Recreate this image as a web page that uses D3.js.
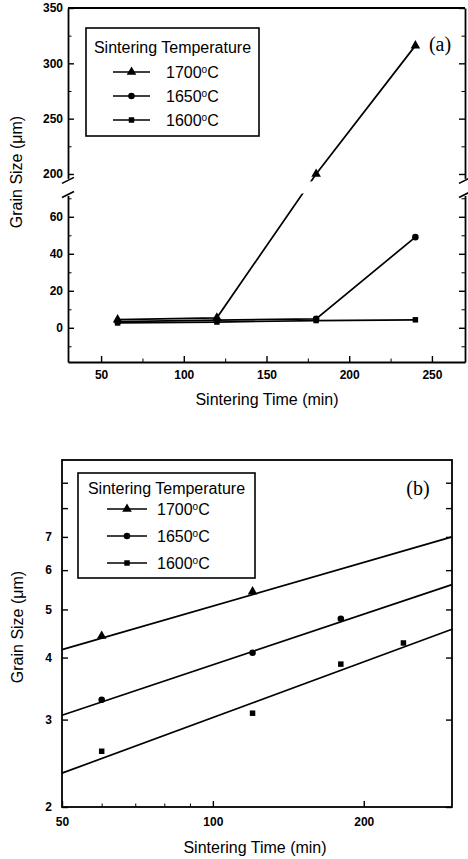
<!DOCTYPE html>
<html>
<head>
<meta charset="utf-8">
<script src="https://cdn.jsdelivr.net/npm/d3@7"></script>
<style>
  body { margin: 0; background: #fff; }
  svg { display: block; font-family: "Liberation Sans", Arial, sans-serif; }
  .tick text { font-weight: bold; font-size: 12px; fill: #000; }
  .domain, .tick line { stroke: #000; }
</style>
</head>
<body>
<svg id="chart" width="468" height="859"></svg>
<script>
// temperatures / legend
var temps = ["1700", "1650", "1600"]
var markers = ["triangle", "circle", "square"]

// panel (a): grain size vs time, linear with axis break
var timeA = [60, 120, 180, 240]
var size1700 = [4.4, 5.4, 200, 316]
var size1650 = [3.3, 4.1, 4.8, 49]
var size1600 = [2.6, 3.1, 3.9, 4.3]

var xTicksA = [50, 100, 150, 200, 250]
var xMinorA = [75, 125, 175, 225]
var yLowTicks = [0, 20, 40, 60]
var yLowMinor = [-10, 10, 30, 50, 70]
var yHighTicks = [200, 250, 300, 350]
var yHighMinor = [225, 275, 325]

// panel (b): log-log with fitted lines
var time1700b = [60, 120]
var size1700b = [4.42, 5.43]
var time1650b = [60, 120, 180]
var size1650b = [3.29, 4.09, 4.79]
var time1600b = [60, 120, 180, 240]
var size1600b = [2.59, 3.09, 3.88, 4.28]

var fitTime = [50, 300]
var fit1700 = [4.15, 7.0]
var fit1650 = [3.06, 5.61]
var fit1600 = [2.34, 4.56]

var xTicksB = [50, 100, 200]
var xMinorB = [60, 70, 80, 90]
var yTicksB = [2, 3, 4, 5, 6, 7]
var yMinorB = [8, 9]

var svg = d3.select("#chart")

function symbolFor(name) {
  if (name == "triangle") return d3.symbol().type(d3.symbolTriangle).size(40)
  if (name == "circle") return d3.symbol().type(d3.symbolCircle).size(34)
  return d3.symbol().type(d3.symbolSquare).size(30)
}

function drawLegend(g, x0, y0, w, h, rowsY, lineX, textX) {
  g.append("rect")
    .attr("x", x0).attr("y", y0).attr("width", w).attr("height", h)
    .attr("fill", "#fff").attr("stroke", "#000").attr("stroke-width", 1.6)
  g.append("text")
    .attr("x", x0 + w / 2).attr("y", y0 + (rowsY[0] - y0) / 2 - 3)
    .attr("text-anchor", "middle").attr("dominant-baseline", "central")
    .attr("font-size", 16)
    .text("Sintering Temperature")
  temps.forEach(function (t, i) {
    var y = rowsY[i]
    g.append("line")
      .attr("x1", lineX[0]).attr("x2", lineX[1]).attr("y1", y).attr("y2", y)
      .attr("stroke", "#000").attr("stroke-width", 1.4)
    g.append("path")
      .attr("d", symbolFor(markers[i])())
      .attr("transform", "translate(" + ((lineX[0] + lineX[1]) / 2) + "," + y + ")")
    var txt = g.append("text")
      .attr("x", textX).attr("y", y).attr("dominant-baseline", "central")
      .attr("font-size", 16)
    txt.append("tspan").text(t)
    txt.append("tspan").attr("font-size", 10).attr("dy", -3).text("o")
    txt.append("tspan").attr("dy", 3).text("C")
  })
}

// ---------- panel (a) ----------
var xA = d3.scaleLinear().domain([30, 270]).range([68, 465])
var yLow = d3.scaleLinear().domain([-18.5, 71.5]).range([362, 195.5])
var yHigh = d3.scaleLinear().domain([196, 350]).range([178.4, 8])
var yA = d3.scaleLinear().domain([-18.5, 71.5, 196, 350]).range([362, 195.5, 178.4, 8])

var gA = svg.append("g")

// frame top / bottom
gA.append("line").attr("x1", 68).attr("x2", 465).attr("y1", 8).attr("y2", 8)
  .attr("stroke", "#000").attr("stroke-width", 1.8)

gA.append("g").attr("transform", "translate(0,362)")
  .call(d3.axisBottom(xA).tickValues(xTicksA).tickSizeInner(-6).tickSizeOuter(0).tickPadding(8))
  .call(function (g) { g.select(".domain").attr("stroke-width", 1.8) })
  .call(function (g) { g.selectAll(".tick line").attr("stroke-width", 1.4) })
gA.append("g").attr("transform", "translate(0,362)")
  .call(d3.axisBottom(xA).tickValues(xMinorA).tickSizeInner(-3.5).tickSizeOuter(0).tickFormat(""))
  .call(function (g) { g.select(".domain").remove() })

// left axis, two segments
;[[yLow, yLowTicks, yLowMinor], [yHigh, yHighTicks, yHighMinor]].forEach(function (s) {
  gA.append("g").attr("transform", "translate(68,0)")
    .call(d3.axisLeft(s[0]).tickValues(s[1]).tickSizeInner(-6).tickSizeOuter(0).tickPadding(5))
    .call(function (g) { g.select(".domain").attr("stroke-width", 1.8) })
    .call(function (g) { g.selectAll(".tick line").attr("stroke-width", 1.4) })
  gA.append("g").attr("transform", "translate(68,0)")
    .call(d3.axisLeft(s[0]).tickValues(s[2]).tickSizeInner(-3.5).tickSizeOuter(0).tickFormat(""))
    .call(function (g) { g.select(".domain").remove() })
  gA.append("g").attr("transform", "translate(465,0)")
    .call(d3.axisRight(s[0]).tickValues(s[1]).tickSizeInner(-6).tickSizeOuter(0).tickFormat(""))
    .call(function (g) { g.select(".domain").attr("stroke-width", 1.8) })
    .call(function (g) { g.selectAll(".tick line").attr("stroke-width", 1.4) })
  gA.append("g").attr("transform", "translate(465,0)")
    .call(d3.axisRight(s[0]).tickValues(s[2]).tickSizeInner(-3.5).tickSizeOuter(0).tickFormat(""))
    .call(function (g) { g.select(".domain").remove() })
})

var seriesA = [size1700, size1650, size1600]
var lineA = d3.line()
  .x(function (d, i) { return xA(timeA[i]) })
  .y(function (d) { return yA(d) })

seriesA.slice().reverse().forEach(function (s) {
  gA.append("path").datum(s).attr("d", lineA)
    .attr("fill", "none").attr("stroke", "#000").attr("stroke-width", 1.7)
})

// gap in data lines at the axis break
gA.append("rect").attr("x", 70).attr("width", 393)
  .attr("y", yHigh.range()[0] + 3).attr("height", yLow.range()[1] - yHigh.range()[0] - 5)
  .attr("fill", "#fff")

seriesA.forEach(function (s, k) {
  gA.selectAll(null).data(s).enter().append("path")
    .attr("d", symbolFor(markers[k])())
    .attr("transform", function (d, i) {
      return "translate(" + xA(timeA[i]) + "," + yA(d) + ")"
    })
})

// break marks
;[68, 465].forEach(function (x) {
  var y1 = yHigh.range()[0], y2 = yLow.range()[1]
  gA.append("line").attr("x1", x - 6).attr("x2", x + 6).attr("y1", y1 + 5).attr("y2", y1 - 1)
    .attr("stroke", "#000").attr("stroke-width", 1.6)
  gA.append("line").attr("x1", x - 6).attr("x2", x + 6).attr("y1", y2 + 2).attr("y2", y2 - 4)
    .attr("stroke", "#000").attr("stroke-width", 1.6)
})

drawLegend(gA, 86, 28, 173, 108, [72, 96, 120], [113, 150], 166)

gA.append("text").attr("x", 440).attr("y", 44)
  .attr("text-anchor", "middle").attr("dominant-baseline", "central")
  .attr("font-family", "'Liberation Serif', serif").attr("font-size", 20)
  .text("(a)")

gA.append("text").attr("x", 267).attr("y", 399)
  .attr("text-anchor", "middle").attr("dominant-baseline", "central")
  .attr("font-size", 16).text("Sintering Time (min)")
gA.append("text")
  .attr("transform", "translate(16,172) rotate(-90)")
  .attr("text-anchor", "middle").attr("dominant-baseline", "central")
  .attr("font-size", 16).text("Grain Size (μm)")

// ---------- panel (b) ----------
var xB = d3.scaleLog().domain([50, 300]).range([62, 452])
var yB = d3.scaleLog().domain([2, 10]).range([807, 460])

var gB = svg.append("g")

gB.append("rect").attr("x", 62).attr("y", 460).attr("width", 390).attr("height", 347)
  .attr("fill", "none").attr("stroke", "#000").attr("stroke-width", 1.8)

gB.append("g").attr("transform", "translate(0,807)")
  .call(d3.axisBottom(xB).tickValues(xTicksB).tickFormat(d3.format("d"))
    .tickSizeInner(-6).tickSizeOuter(0).tickPadding(10))
  .call(function (g) { g.select(".domain").remove() })
  .call(function (g) { g.selectAll(".tick line").attr("stroke-width", 1.4) })
gB.append("g").attr("transform", "translate(0,807)")
  .call(d3.axisBottom(xB).tickValues(xMinorB).tickSizeInner(-3.5).tickSizeOuter(0).tickFormat(""))
  .call(function (g) { g.select(".domain").remove() })

gB.append("g").attr("transform", "translate(62,0)")
  .call(d3.axisLeft(yB).tickValues(yTicksB).tickFormat(d3.format("d"))
    .tickSizeInner(-6).tickSizeOuter(0).tickPadding(10))
  .call(function (g) { g.select(".domain").remove() })
  .call(function (g) { g.selectAll(".tick line").attr("stroke-width", 1.4) })
gB.append("g").attr("transform", "translate(62,0)")
  .call(d3.axisLeft(yB).tickValues(yMinorB).tickSizeInner(-6).tickSizeOuter(0).tickFormat(""))
  .call(function (g) { g.select(".domain").remove() })
  .call(function (g) { g.selectAll(".tick line").attr("stroke-width", 1.4) })
gB.append("g").attr("transform", "translate(452,0)")
  .call(d3.axisRight(yB).tickValues(yTicksB.concat(yMinorB)).tickSizeInner(-6).tickSizeOuter(0).tickFormat(""))
  .call(function (g) { g.select(".domain").remove() })
  .call(function (g) { g.selectAll(".tick line").attr("stroke-width", 1.4) })

var lineB = d3.line()
  .x(function (d) { return xB(d[0]) })
  .y(function (d) { return yB(d[1]) })

;[fit1700, fit1650, fit1600].forEach(function (f) {
  gB.append("path").datum(d3.zip(fitTime, f)).attr("d", lineB)
    .attr("fill", "none").attr("stroke", "#000").attr("stroke-width", 1.7)
})

var pointsB = [d3.zip(time1700b, size1700b), d3.zip(time1650b, size1650b), d3.zip(time1600b, size1600b)]
pointsB.forEach(function (pts, k) {
  gB.selectAll(null).data(pts).enter().append("path")
    .attr("d", symbolFor(markers[k])())
    .attr("transform", function (d) {
      return "translate(" + xB(d[0]) + "," + yB(d[1]) + ")"
    })
})

drawLegend(gB, 78, 473, 177, 105, [509, 536, 563], [107, 147], 157)

gB.append("text").attr("x", 418).attr("y", 488)
  .attr("text-anchor", "middle").attr("dominant-baseline", "central")
  .attr("font-family", "'Liberation Serif', serif").attr("font-size", 20)
  .text("(b)")

gB.append("text").attr("x", 255).attr("y", 847)
  .attr("text-anchor", "middle").attr("dominant-baseline", "central")
  .attr("font-size", 16).text("Sintering Time (min)")
gB.append("text")
  .attr("transform", "translate(17,627) rotate(-90)")
  .attr("text-anchor", "middle").attr("dominant-baseline", "central")
  .attr("font-size", 16).text("Grain Size (μm)")
</script>
</body>
</html>
